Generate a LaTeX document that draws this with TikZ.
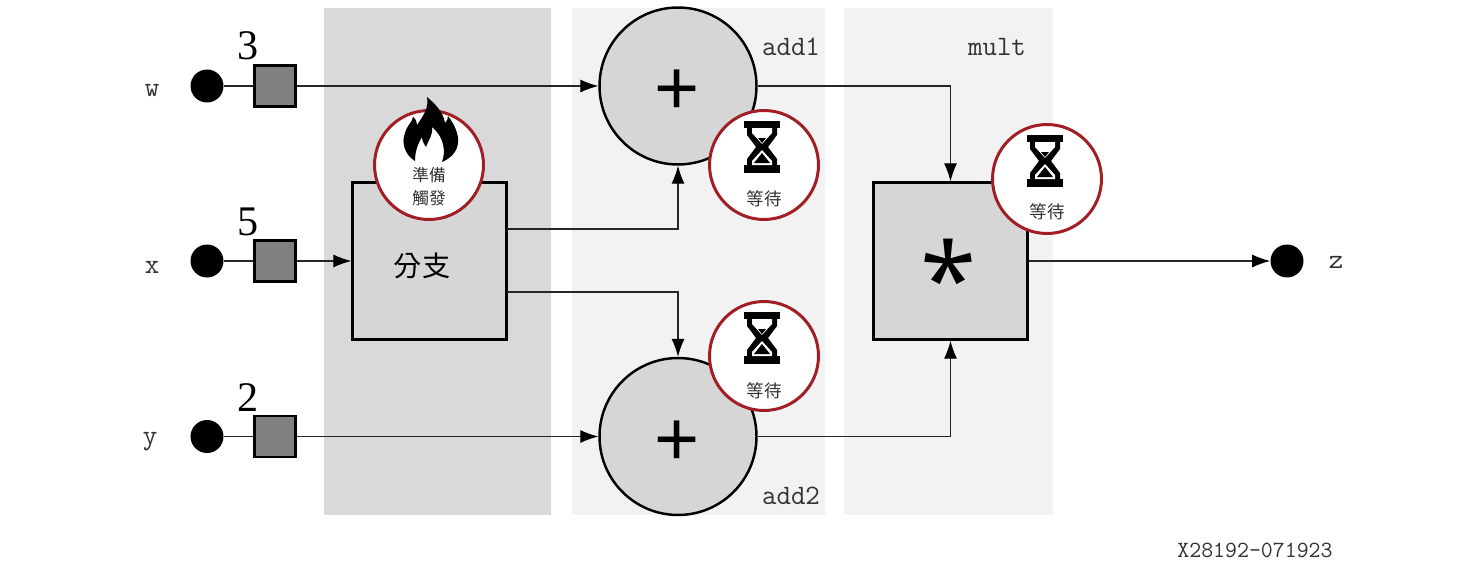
\documentclass[tikz,border=0pt]{standalone}
\usepackage{fontspec}
\usepackage{xcolor}
\usetikzlibrary{arrows.meta}
\newfontfamily\cjk{Noto Sans CJK TC}
\newfontfamily\plusfont{Liberation Sans}
\newfontfamily\numfont{Liberation Serif}
\newfontfamily\starfont{Open Sans}
\definecolor{badgered}{HTML}{A01E24}
\newcommand{\fsize}[1]{\fontsize{#1}{#1}\selectfont}

\begin{document}
\begin{tikzpicture}[
		x=0.02cm, y=-0.02cm,
		panel/.style={fill=#1, draw=none},
		dot/.style={circle, fill=black, draw=none, inner sep=0pt, minimum size=0.66cm},
		reg/.style={rectangle, draw=black, line width=1.4pt, fill=black!50, inner sep=0pt, minimum size=0.82cm},
		gatebox/.style={rectangle, draw=black, line width=1.4pt, fill=black!16, inner sep=0pt, minimum width=3.08cm, minimum height=3.14cm},
		gatecirc/.style={circle, draw=black, line width=1.4pt, fill=black!16, inner sep=0pt, minimum size=3.14cm},
		badge/.style={circle, draw=badgered, line width=1.7pt, fill=white, inner sep=0pt, minimum size=2.18cm},
		conn/.style={draw=black!85, line width=0.6pt, -{Latex[length=0.36cm,width=0.26cm,color=black]}},
		wire/.style={draw=black!85, line width=0.6pt},
		sig/.style={font=\ttfamily\fsize{16}, text=black!80},
		num/.style={font=\numfont\fsize{24}, inner sep=0pt},
		wait/.style={font=\cjk\fsize{10}, inner sep=0pt, text=black!80},
		hourglass/.pic={
			\fill[black] (-20,-27) rectangle (16,-20);
			\fill[black] (-20,17) rectangle (16,25);
			\fill[black] (-17,-20) -- (13,-20) -- (13,-13) -- (4,-1) -- (13,11) -- (13,17)
				-- (-17,17) -- (-17,11) -- (-8,-1) -- (-17,-13) -- cycle;
			\fill[white] (-12,-20) -- (8,-20) -- (8,-15) -- (-2,-4) -- (-12,-15) -- cycle;
			\fill[white] (-2,2) -- (8,13) -- (8,17) -- (-12,17) -- (-12,13) -- cycle;
			\fill[black] (-6,-10) -- (2,-10) -- (-2,-5) -- cycle;
			\fill[black] (-2,5) -- (6,15) -- (-10,15) -- cycle;
		},
		flame/.pic={
			\fill[black] (-14,-4) .. controls (-24,-10) and (-28,-22) .. (-24,-32)
				.. controls (-22,-40) and (-17,-42) .. (-16,-48)
				.. controls (-13,-46) and (-12,-43) .. (-12,-40)
				.. controls (-5,-50) and (0,-58) .. (-2,-68)
				.. controls (5,-62) and (14,-54) .. (16,-42)
				.. controls (18,-44) and (19,-46) .. (19,-49)
				.. controls (26,-40) and (30,-30) .. (29,-22)
				.. controls (28,-12) and (20,-6) .. (13,-3)
				.. controls (17,-14) and (15,-28) .. (3,-38)
				.. controls (4,-30) and (0,-26) .. (-3,-18)
				.. controls (-6,-22) and (-7,-26) .. (-7,-28)
				.. controls (-12,-20) and (-14,-12) .. (-14,-4) -- cycle;
		},
		]
		% panels
		\fill[panel=black!15] (324,8) rectangle (551,515);
		\fill[panel=black!5] (572,8) rectangle (825,515);
		\fill[panel=black!5] (844,8) rectangle (1053,515);

		% inputs
		\node[dot] (dotw) at (207,86) {};
		\node[dot] (dotx) at (207,261) {};
		\node[dot] (doty) at (207,436.5) {};
		\node[reg] (regw) at (275,86) {};
		\node[reg] (regx) at (275,261) {};
		\node[reg] (regy) at (275,436.5) {};
		\node[sig] (labw) at (152,91) {w};
		\node[sig] (labx) at (152,267) {x};
		\node[sig] (laby) at (150,442) {y};
		\node[num] (numw) at (248,46) {3};
		\node[num] (numx) at (248,222) {5};
		\node[num] (numy) at (248,398) {2};

		% gates
		\node[gatebox] (branch) at (429.5,261) {};
		\node[font=\cjk\fsize{16}, inner sep=0pt] (branchtxt) at (422,266) {分支};
		\node[gatecirc] (add1) at (678,86) {};
		\node[gatecirc] (add2) at (678,436.5) {};
		\node[gatebox] (mult) at (950.5,261) {};
		\node[font=\plusfont\fsize{44}, inner sep=0pt] (plus1) at (677,92) {+};
		\node[font=\plusfont\fsize{44}, inner sep=0pt] (plus2) at (677,443) {+};
		\node[font=\starfont\fsize{58}, inner sep=0pt, anchor=base] (star) at (949,316) {*};
		\node[dot] (dotz) at (1287,261) {};
		\node[sig] (labz) at (1336,262) {z};
		\node[sig] (labadd1) at (791,47) {add1};
		\node[sig] (labadd2) at (791,496) {add2};
		\node[sig] (labmult) at (997,47) {mult};
		\node[font=\ttfamily\fsize{13.2}, text=black!80] (partno) at (1255,550) {X28192-071923};

		% connectors
		\coordinate (branchup) at (507,229);
		\coordinate (branchdn) at (507,292);
		\draw[wire] (dotw) -- (regw);
		\draw[wire] (dotx) -- (regx);
		\draw[wire] (doty) -- (regy);
		\draw[conn] (regw) -- (add1);
		\draw[conn] (regx) -- (branch);
		\draw[conn] (regy) -- (add2);
		\draw[conn] (branchup) -| (add1);
		\draw[conn] (branchdn) -| (add2);
		\draw[conn] (add1) -| (mult);
		\draw[conn] (add2) -| (mult);
		\draw[conn] (mult) -- (dotz);

		% status badges
		\node[badge] (fire) at (429,165) {};
		\node[badge] (waita) at (764,165) {};
		\node[badge] (waitb) at (764,356) {};
		\node[badge] (waitc) at (1047,179) {};
		\pic at (fire) {flame};
		\pic at (764,148) {hourglass};
		\pic at (764,339) {hourglass};
		\pic at (1047,162) {hourglass};
		\node[inner sep=0pt, align=center, text=black!80, font=\cjk\fontsize{9.5}{13}\selectfont] (firetxt) at (429,187) {準備\\觸發};
		\node[wait] (waitatxt) at (764,199) {等待};
		\node[wait] (waitbtxt) at (764,391) {等待};
		\node[wait] (waitctxt) at (1047,212) {等待};
		\useasboundingbox (0,0) rectangle (1467,578);
	\end{tikzpicture}
\end{document}
